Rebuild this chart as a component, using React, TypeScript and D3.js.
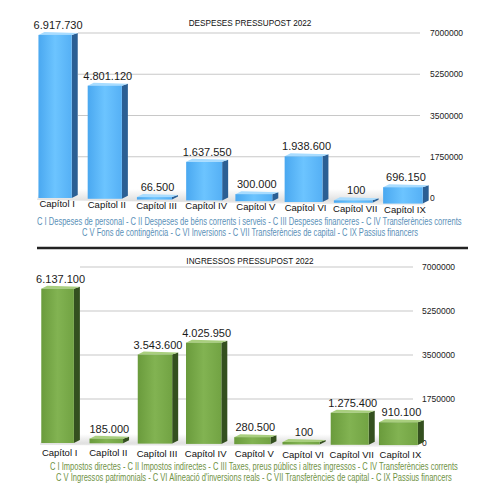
import React, { useEffect, useRef, useState } from "react";
import * as d3 from "d3";

const categories = ["Capítol I", "Capítol II", "Capítol III", "Capítol IV", "Capítol V", "Capítol VI", "Capítol VII", "Capítol IX"];
const despeses = [6917730, 4801120, 66500, 1637550, 300000, 1938600, 100, 696150];
const ingressos = [6137100, 185000, 3543600, 4025950, 280500, 100, 1275400, 910100];
const ticks = [0, 1750000, 3500000, 5250000, 7000000];
const titleDespeses = "DESPESES PRESSUPOST 2022";
const titleIngressos = "INGRESSOS PRESSUPOST 2022";
const captionDespeses = [
  "C I Despeses de personal - C II Despeses de béns corrents i serveis - C III Despeses financeres - C IV Transferències corrents",
  "C V Fons de contingència - C VI Inversions - C VII Transferències de capital - C IX Passius financers",
];
const captionIngressos = [
  "C I Impostos directes - C II Impostos indirectes - C III Taxes, preus públics i altres ingressos - C IV Transferències corrents",
  "C V Ingressos patrimonials - C VI Alineació d'inversions reals - C VII Transferències de capital - C IX Passius financers",
];

const fmt = (v: number) => d3.format(",")(v).replace(/,/g, ".");
const font = "Liberation Sans, Arial, sans-serif";

function FitText({ x, y, width, text, color }: { x: number; y: number; width: number; text: string; color: string }) {
  const ref = useRef<SVGTextElement>(null);
  const [s, setS] = useState(0.8);
  useEffect(() => {
    if (ref.current) {
      const len = ref.current.getComputedTextLength();
      if (len > 0) setS(width / len);
    }
  }, [width, text]);
  return (
    <text ref={ref} transform={`translate(${x},${y}) scale(${s},1)`} fontFamily={font} fontSize={11} fill={color}>{text}</text>
  );
}

type Cfg = {
  id: string;
  values: number[];
  title: string;
  captions: string[];
  titleY: number;
  yTop: number;
  y0: number;
  band: [number, number];
  gridX: [number, number];
  tickX: number;
  capY: number;
  tilt: number;
  captionY: number[];
  captionX: [number, number][];
  captionColor: string;
  front: [string, string, string];
  side: string;
  top: string;
};

function Chart({ c }: { c: Cfg }) {
  const x = d3.scaleBand<string>().domain(categories).range(c.band).paddingInner(0.33).paddingOuter(0.17);
  const y = d3.scaleLinear().domain([0, 7000000]).range([c.y0, c.yTop]);
  const dx = 6, dy = 3;
  return (
    <g>
      <defs>
        <linearGradient id={c.id + "f"} x1="0" x2="1" y1="0" y2="0">
          <stop offset="0" stopColor={c.front[0]} />
          <stop offset="0.5" stopColor={c.front[1]} />
          <stop offset="1" stopColor={c.front[2]} />
        </linearGradient>
        <linearGradient id={c.id + "floor"} x1="0" x2="0" y1="0" y2="1">
          <stop offset="0" stopColor="#ffffff" />
          <stop offset="0.7" stopColor="#e0e0e0" />
          <stop offset="1" stopColor="#f4f4f4" />
        </linearGradient>
      </defs>
      <text x={250} y={c.titleY} textAnchor="middle" fontFamily={font} fontSize={8.2} fill="#111">{c.title}</text>
      <polygon
        points={`${c.band[0] + 8},${c.y0 - 9} ${c.gridX[1]},${c.y0 - 9} ${c.gridX[1] + 5},${c.y0 + 7 * c.tilt + 2} ${c.band[0] + 5},${c.y0 + 2}`}
        fill={`url(#${c.id}floor)`}
      />
      {ticks.map((t) => (
        <g key={t}>
          {t > 0 && <line x1={c.gridX[0]} x2={c.gridX[1]} y1={y(t)} y2={y(t)} stroke="#c8c8c8" strokeWidth={1.2} />}
          <text x={c.tickX} y={y(t) + 3.2} fontFamily={font} fontSize={8.5} fill="#222">{t}</text>
        </g>
      ))}
      {categories.map((cat, i) => {
        const v = c.values[i];
        const t = i * c.tilt;
        const w = x.bandwidth() + i * 0.9;
        const x0 = (x(cat) as number) + x.bandwidth() / 2 - w / 2 - 2;
        const yb = c.y0 + t;
        const yt = Math.min(y(v) + t, yb - 2.5);
        const h = yb - yt;
        return (
          <g key={cat}>
            <polygon points={`${x0 + w},${yt} ${x0 + w + dx},${yt - dy + 1} ${x0 + w + dx},${yb - dy} ${x0 + w},${yb}`} fill={c.side} />
            <polygon points={`${x0},${yt} ${x0 + dx},${yt - dy} ${x0 + w + dx},${yt - dy + 1} ${x0 + w},${yt}`} fill={c.top} />
            <rect x={x0} y={yt} width={w} height={h} fill={`url(#${c.id}f)`} />
            <text x={x0 + w / 2 + 3} y={yt - 6} textAnchor="middle" fontFamily={font} fontSize={11} fill="#1a1a1a">{fmt(v)}</text>
            <text x={x0 + w / 2 + 2} y={c.capY + t} textAnchor="middle" fontFamily={font} fontSize={9.5} fill="#111">{cat}</text>
          </g>
        );
      })}
      {c.captions.map((s, i) => (
        <FitText key={i} x={c.captionX[i][0]} y={c.captionY[i]} width={c.captionX[i][1] - c.captionX[i][0]} text={s} color={c.captionColor} />
      ))}
    </g>
  );
}

export default function App() {
  const top: Cfg = {
    id: "d",
    values: despeses,
    title: titleDespeses,
    captions: captionDespeses,
    titleY: 26,
    yTop: 33,
    y0: 198,
    band: [32, 430],
    gridX: [78, 420],
    tickX: 430,
    capY: 207,
    tilt: 0.8,
    captionY: [224.5, 236],
    captionX: [[37, 462], [82, 418]],
    captionColor: "#5a90b8",
    front: ["#4aa8f0", "#6cc4ff", "#55b0f5"],
    side: "#2b5f94",
    top: "#a8dcff",
  };
  const bottom: Cfg = {
    id: "g",
    values: ingressos,
    title: titleIngressos,
    captions: captionIngressos,
    titleY: 264,
    yTop: 267,
    y0: 443,
    band: [35, 425],
    gridX: [80, 413],
    tickX: 422,
    capY: 456,
    tilt: 0.3,
    captionY: [469.5, 481],
    captionX: [[50, 458], [56, 452]],
    captionColor: "#6f9245",
    front: ["#6a9b3c", "#82b352", "#72a343"],
    side: "#34501f",
    top: "#a9cf7e",
  };
  return (
    <svg width={500} height={500} style={{ position: "absolute", left: 0, top: 0, background: "#fff" }}>
      <rect width={500} height={500} fill="#fff" />
      <Chart c={top} />
      <line x1={37} x2={468} y1={248} y2={248} stroke="#222" strokeWidth={2.5} />
      <Chart c={bottom} />
    </svg>
  );
}
